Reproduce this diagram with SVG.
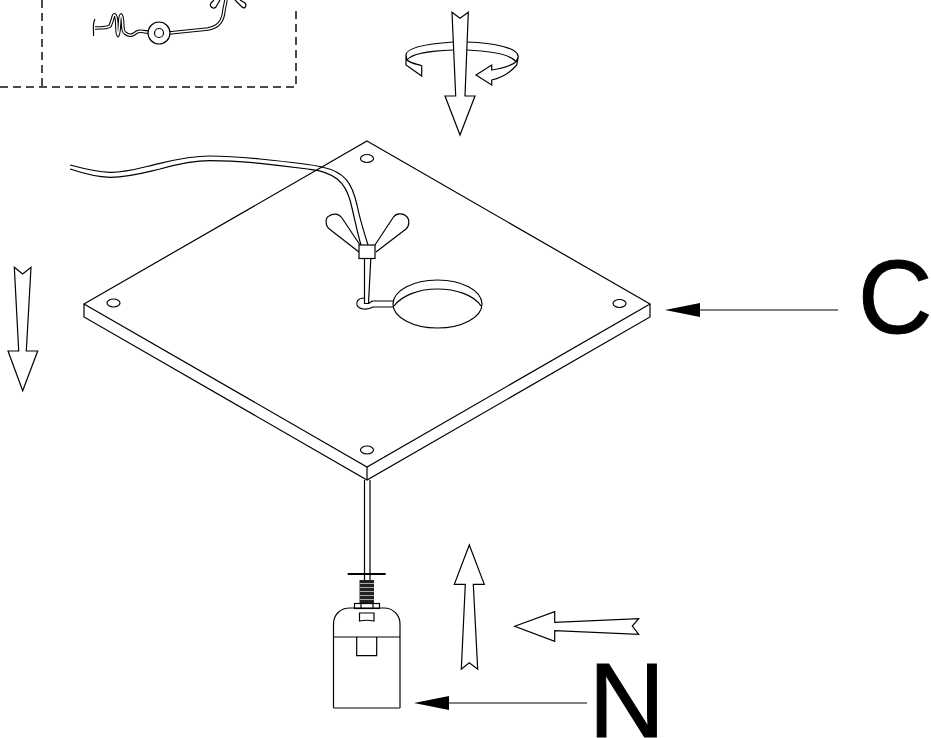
<svg xmlns="http://www.w3.org/2000/svg" width="931" height="738" viewBox="0 0 931 738">
<style>
.l{fill:none;stroke:#000;stroke-width:1.2;stroke-linejoin:miter}
.w{fill:#fff;stroke:#000;stroke-width:1.2;stroke-linejoin:miter}
.d{fill:none;stroke:#111;stroke-width:1.5;stroke-dasharray:8 5}
.o{fill:none;stroke:#000;stroke-width:3.6}
.i{fill:none;stroke:#fff;stroke-width:1.5}
.t{font-family:"Liberation Sans",Arial,sans-serif;fill:#000;stroke:#000;stroke-width:1}
.c{fill:none;stroke:#000;stroke-width:1}
.h{fill:#000;stroke:none}
</style>
<rect width="931" height="738" fill="#fff"/>
<g id="inset">
<path class="d" d="M42 0V87M0 87H296V6"/>
<path class="o" d="M95 28C102 28 108 28 110 26C113 20 113 14 115 15C118 17 116 33 118 35C120 32 119 16 121 15C124 17 121 31 125 33C130 37 133 35 137 32C140 30 143 32 148 32"/>
<path class="i" d="M95 28C102 28 108 28 110 26C113 20 113 14 115 15C118 17 116 33 118 35C120 32 119 16 121 15C124 17 121 31 125 33C130 37 133 35 137 32C140 30 143 32 148 32"/>
<path class="l" d="M95 19C92 24 94 30 93.500 36"/>
<path class="o" d="M169 33L208 29C218 27 223 22 224 10L226 0"/>
<path class="i" d="M169 33L208 29C218 27 223 22 224 10L226 0"/>
<circle class="w" cx="159" cy="33" r="11"/>
<circle class="l" cx="159" cy="33" r="4.500"/>
<path class="l" d="M220 0L216 7C213 10 209 6 211 3L214 0M235 0L242 7C245 10 247 5 245 3L240 0"/>
</g>
<g id="plate">
<path class="l" d="M70 165C85 169 97 172 110 172.300C128 172.500 143 167 160 163.300C178 159 193 156 210 156C228 156 245 157.500 260 159C285 161.500 310 164 322 167C345 172 352 183 357 205C360 220 364 232 368 245"/>
<path class="l" d="M70 169C85 174 97 177 110 177.300C128 177.500 143 173 160 169C178 164 193 160.700 210 160.700C228 160.700 245 162 260 163.300C285 166 300 168 310 169.300C335 172 345 183 350 200C354 215 357 232 361 245"/>
<path class="l" d="M367 141L650 304L367 467L84 304Z"/>
<path class="l" d="M84 304V317L367 480L650 317V304M367 467V480"/>
<ellipse class="l" cx="367" cy="158.500" rx="6.500" ry="4"/>
<ellipse class="l" cx="113.500" cy="303" rx="6.500" ry="4"/>
<ellipse class="l" cx="619.500" cy="303.500" rx="6.500" ry="4"/>
<ellipse class="l" cx="367" cy="450" rx="6.500" ry="4"/>
<ellipse class="w" cx="437.500" cy="304" rx="44.500" ry="24"/>
<path class="l" d="M394 306C402 295 420 289 437 289C456 289 474 295 481 306"/>
</g>
<g id="wingnut">
<path class="l" d="M359.300 252.300L330 229.500C325 226 325 218 329 216C334 212.500 339 214 342 218L360 245"/>
<path class="l" d="M375 245L393.300 217.300C396 213 403 213 406 216C410 219 409.500 226 406 229L376 252"/>
<rect class="w" x="359" y="245" width="16" height="13.500"/>
<path class="l" d="M364.500 258.500V303.500H368.500L370.800 258.500"/>
<path class="l" d="M364 298C358 298 356 302 357 305C359 310 368 310 373 307H394M372.500 301H394M372.500 301L368.500 303.500"/>
</g>
<g id="socket">
<path class="l" d="M364.500 480V603M370 480V603"/>
<path d="M347.700 574H385.700" fill="none" stroke="#000" stroke-width="1.800"/>
<rect x="359.500" y="580" width="14.500" height="23" fill="#222"/>
<path d="M359.500 583.500H374M359.500 587.500H374M359.500 591.500H374M359.500 595.500H374M359.500 599.500H374" fill="none" stroke="#aaa" stroke-width="1"/>
<rect class="w" x="354.500" y="603.500" width="25" height="5"/>
<path class="l" d="M361 603.500V608M373 603.500V608"/>
<path class="l" d="M333.500 708V624C333.500 614 341 608 350 608H384C393 608 400 615 400 624V708"/>
<path d="M333.500 708H400" fill="none" stroke="#555" stroke-width="1.500"/>
<path class="l" d="M333.500 637H400"/>
<path class="l" d="M356.700 637V655.700H376.700V637"/>
<path class="l" d="M359.500 613H374V621C369 620 364 620 359.500 621Z"/>
</g>
<g id="connectors">
<path class="l" d="M453 42C425 44 406 48 406 55V65L421.700 76V65.700C416 64 410 63 407 60C412 53 430 51 453 50M406 55L407 60"/>
<path class="l" d="M467 42C495 43 518 48 518.300 56.700L516.700 65C510 73 500 78 491.700 80V85L476 75L491.700 65V70C503 68 512 66 516 61.700C510 54 490 51 467 50M518.300 56.700L516 61.700"/>
<path class="w" d="M452 12.300L460 18.300L468.300 12.300L465 96H475L460 135L445 96H455.700Z"/>
<path class="w" d="M14.300 267.300L22.700 274L31 267.300L26.300 351H37.700L22.700 390.700L8 351H18.700Z"/>
<path class="w" d="M469.300 545L484.300 584.300H473.300L477.700 669.300L469.300 662.700L461.300 669.300L465.300 584.300H454.300Z"/>
<path class="w" d="M514.700 626.300L554.700 611.700V622.300L638.700 618.700L632.300 626L638.700 634.300L554.700 630.700V641.300Z"/>
<path class="c" d="M838 310H695"/>
<path class="h" d="M665 310L700 303V317Z"/>
<path class="c" d="M587 703H445"/>
<path class="h" d="M414 703L449 696V710Z"/>
</g>
<g id="labels">
<text class="t" x="858" y="333" font-size="103">C</text>
<text class="t" x="588.500" y="736.500" font-size="106">N</text>
</g>
</svg>
